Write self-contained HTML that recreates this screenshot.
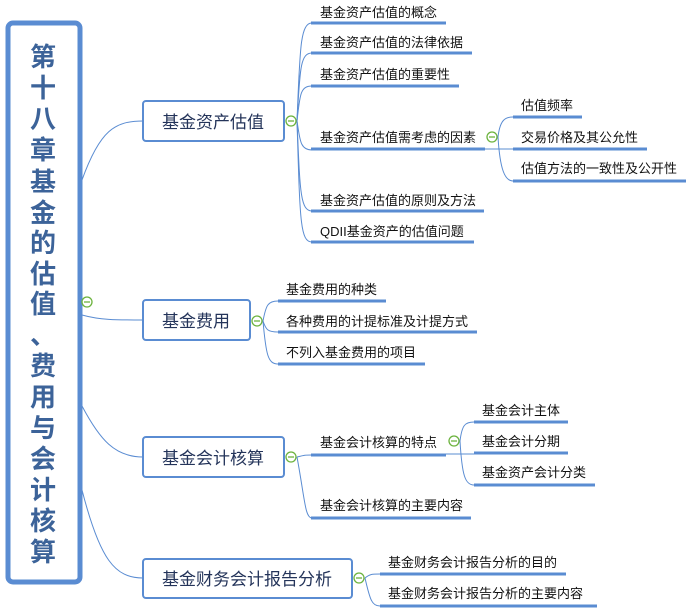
<!DOCTYPE html>
<html><head><meta charset="utf-8"><style>
html,body{margin:0;padding:0;background:#fff;width:690px;height:615px;overflow:hidden}
svg{display:block}
text{font-family:"Liberation Sans","Noto Sans CJK SC",sans-serif;fill:#111}
.t{font-size:13px}
.b{font-size:17px;fill:#24345a}
.r{font-size:26px;font-weight:bold}
.r text{fill:#3c6399}
.u{stroke:#5a8cd2;stroke-width:3}
.c{fill:none;stroke:#5a8cd2;stroke-width:1}
.box{fill:#fff;stroke:#5a8cd2;stroke-width:2}
.cc{fill:#fff;stroke:#6cb33e;stroke-width:1.3}
</style></head><body>
<svg width="690" height="615" viewBox="0 0 690 615" xmlns="http://www.w3.org/2000/svg">
<rect x="8" y="23" width="72" height="559" rx="5" fill="#fff" stroke="#5a8cd2" stroke-width="5"/>
<g class="r" text-anchor="middle">
<text x="43" y="66">第</text><text x="43" y="97">十</text><text x="43" y="128">八</text><text x="43" y="159">章</text>
<text x="43" y="191">基</text><text x="43" y="222">金</text><text x="43" y="252">的</text><text x="43" y="283">估</text>
<text x="43" y="313">值</text><text x="43" y="344">、</text><text x="43" y="375">费</text><text x="43" y="406">用</text>
<text x="43" y="437">与</text><text x="43" y="468">会</text><text x="43" y="499">计</text><text x="43" y="530">核</text><text x="43" y="561">算</text>
</g>
<circle cx="87" cy="302" r="5" class="cc"/><line x1="84" y1="302" x2="90" y2="302" stroke="#6cb33e" stroke-width="1.3"/>
<path class="c" d="M82 180 C100 130 115 121 143 121"/>
<path class="c" d="M82 315 C100 320 115 320 143 320"/>
<path class="c" d="M82 406 C100 440 115 457 143 457"/>
<path class="c" d="M82 490 C100 560 115 578 143 578"/>
<rect x="143" y="101" width="141" height="40" rx="3" class="box"/><text x="213" y="128" class="b" text-anchor="middle">基金资产估值</text>
<rect x="143" y="300" width="107" height="40" rx="3" class="box"/><text x="196" y="327" class="b" text-anchor="middle">基金费用</text>
<rect x="143" y="437" width="141" height="40" rx="3" class="box"/><text x="213" y="464" class="b" text-anchor="middle">基金会计核算</text>
<rect x="143" y="559" width="209" height="39" rx="3" class="box"/><text x="247" y="585" class="b" text-anchor="middle">基金财务会计报告分析</text>
<path class="c" d="M297 121 C300 50 300 23 312 23"/>
<path class="c" d="M297 121 C300 70 300 53 312 53"/>
<path class="c" d="M297 121 C300 95 300 86 312 86"/>
<path class="c" d="M297 121 C300 140 300 150 312 150"/>
<path class="c" d="M297 121 C300 190 300 211 312 211"/>
<path class="c" d="M297 121 C300 220 300 242 312 242"/>
<line class="u" x1="311" y1="23" x2="446" y2="23"/><text class="t" x="320" y="17">基金资产估值的概念</text>
<line class="u" x1="311" y1="53" x2="472" y2="53"/><text class="t" x="320" y="47">基金资产估值的法律依据</text>
<line class="u" x1="311" y1="86" x2="459" y2="86"/><text class="t" x="320" y="79">基金资产估值的重要性</text>
<line class="u" x1="311" y1="149" x2="485" y2="149"/><text class="t" x="320" y="142">基金资产估值需考虑的因素</text>
<line class="u" x1="311" y1="211" x2="484" y2="211"/><text class="t" x="320" y="205">基金资产估值的原则及方法</text>
<line class="u" x1="311" y1="242" x2="474" y2="242"/><text class="t" x="320" y="236">QDII基金资产的估值问题</text>
<circle cx="291" cy="121" r="5" class="cc"/><line x1="288" y1="121" x2="294" y2="121" stroke="#6cb33e" stroke-width="1.3"/>
<line class="c" x1="485" y1="149" x2="513" y2="149"/>
<path class="c" d="M498 137 C500 120 505 117 513 117"/>
<path class="c" d="M498 137 C500 170 505 181 513 181"/>
<line class="u" x1="513" y1="117" x2="582" y2="117"/><text class="t" x="521" y="110">估值频率</text>
<line class="u" x1="513" y1="149" x2="647" y2="149"/><text class="t" x="521" y="142">交易价格及其公允性</text>
<line class="u" x1="513" y1="181" x2="686" y2="181"/><text class="t" x="521" y="173">估值方法的一致性及公开性</text>
<circle cx="492" cy="137" r="5" class="cc"/><line x1="489" y1="137" x2="495" y2="137" stroke="#6cb33e" stroke-width="1.3"/>
<path class="c" d="M263 321 C266 305 268 301 278 301"/>
<path class="c" d="M263 321 C266 330 268 332 278 332"/>
<path class="c" d="M263 321 C266 355 268 364 278 364"/>
<line class="u" x1="278" y1="301" x2="386" y2="301"/><text class="t" x="286" y="294">基金费用的种类</text>
<line class="u" x1="278" y1="332" x2="477" y2="332"/><text class="t" x="286" y="326">各种费用的计提标准及计提方式</text>
<line class="u" x1="278" y1="364" x2="425" y2="364"/><text class="t" x="286" y="357">不列入基金费用的项目</text>
<circle cx="257" cy="321" r="5" class="cc"/><line x1="254" y1="321" x2="260" y2="321" stroke="#6cb33e" stroke-width="1.3"/>
<path class="c" d="M297 457 C305 455 305 455 312 455"/>
<path class="c" d="M297 457 C305 500 305 518 312 518"/>
<line class="u" x1="311" y1="455" x2="446" y2="455"/><text class="t" x="320" y="447">基金会计核算的特点</text>
<line class="u" x1="311" y1="518" x2="471" y2="518"/><text class="t" x="320" y="510">基金会计核算的主要内容</text>
<circle cx="291" cy="457" r="5" class="cc"/><line x1="288" y1="457" x2="294" y2="457" stroke="#6cb33e" stroke-width="1.3"/>
<line class="c" x1="446" y1="454" x2="474" y2="454"/>
<path class="c" d="M460 441 C462 425 465 422 474 422"/>
<path class="c" d="M460 441 C462 475 465 485 474 485"/>
<line class="u" x1="474" y1="422" x2="568" y2="422"/><text class="t" x="482" y="415">基金会计主体</text>
<line class="u" x1="474" y1="453" x2="568" y2="453"/><text class="t" x="482" y="446">基金会计分期</text>
<line class="u" x1="474" y1="485" x2="595" y2="485"/><text class="t" x="482" y="477">基金资产会计分类</text>
<circle cx="454" cy="441" r="5" class="cc"/><line x1="451" y1="441" x2="457" y2="441" stroke="#6cb33e" stroke-width="1.3"/>
<path class="c" d="M365 578 C370 574 372 574 380 574"/>
<path class="c" d="M365 578 C370 600 372 606 380 606"/>
<line class="u" x1="380" y1="574" x2="566" y2="574"/><text class="t" x="388" y="567">基金财务会计报告分析的目的</text>
<line class="u" x1="380" y1="606" x2="597" y2="606"/><text class="t" x="388" y="598">基金财务会计报告分析的主要内容</text>
<circle cx="359" cy="578" r="5" class="cc"/><line x1="356" y1="578" x2="362" y2="578" stroke="#6cb33e" stroke-width="1.3"/>
</svg>
</body></html>
